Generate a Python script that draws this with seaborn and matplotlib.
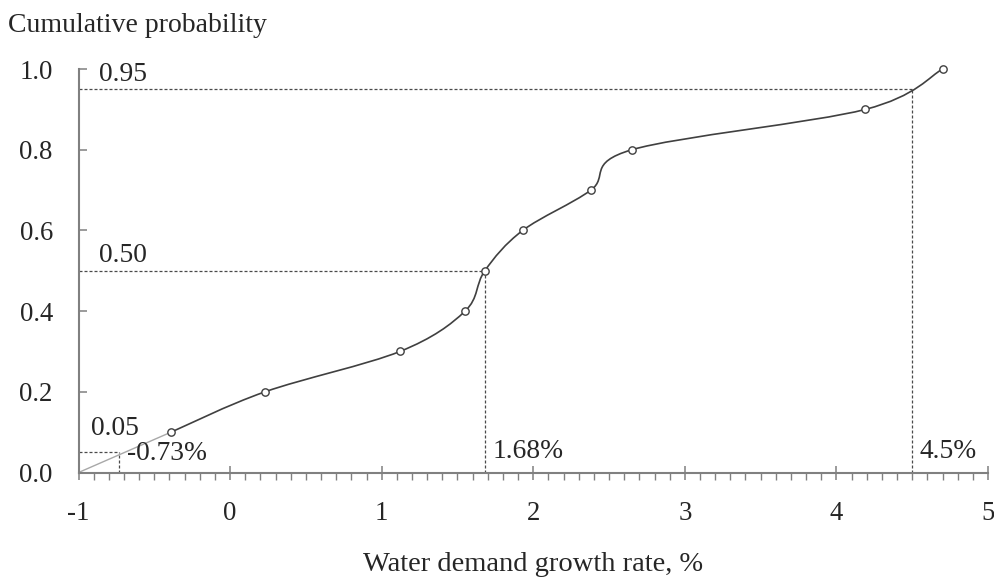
"""
Cumulative probability curve of the water demand growth rate
Smoothed empirical CDF with the 5%, 50% and 95% quantiles marked
"""

import numpy as np
import pandas as pd
import matplotlib
matplotlib.use("Agg")
import matplotlib.pyplot as plt
from matplotlib.path import Path
from matplotlib.patches import PathPatch
import seaborn as sns

# Data
growth_rate = [-0.39, 0.23, 1.12, 1.55, 1.68, 1.93, 2.38, 2.65, 4.19, 4.70]
cum_prob = [0.1, 0.2, 0.3, 0.4, 0.5, 0.6, 0.7, 0.8, 0.9, 1.0]

# straight extrapolation from the axis origin to the first point
origin_rate = -1.0
origin_prob = 0.0

# quantiles marked with dashed guide lines
quantile_probs = [0.05, 0.50, 0.95]
quantile_rates = [-0.73, 1.68, 4.5]
quantile_prob_labels = ["0.05", "0.50", "0.95"]
quantile_rate_labels = ["-0.73%", "1.68%", "4.5%"]

x_ticks = [-1, 0, 1, 2, 3, 4, 5]
x_tick_labels = ["-1", "0", "1", "2", "3", "4", "5"]
y_ticks = [0.0, 0.2, 0.4, 0.6, 0.8, 1.0]
y_tick_labels = ["0.0", "0.2", "0.4", "0.6", "0.8", "1.0"]

FONT = "Liberation Serif"
CURVE_COLOR = "#404040"
AXIS_COLOR = "#808080"
GUIDE_COLOR = "#4a4a4a"
TEXT_SIZE = 19.8


def smooth_path(xs, ys):
    """Bezier path through the points (same smoothing as a spreadsheet 'smoothed line')"""
    pts = np.column_stack([xs, ys])
    n = len(pts)
    verts = [pts[0]]
    codes = [Path.MOVETO]
    for i in range(n - 1):
        p_prev = pts[max(i - 1, 0)]
        p0 = pts[i]
        p1 = pts[i + 1]
        p_next = pts[min(i + 2, n - 1)]
        c1 = p0 + (p1 - p_prev) / 6.0
        c2 = p1 - (p_next - p0) / 6.0
        verts += [c1, c2, p1]
        codes += [Path.CURVE4] * 3
    return Path(verts, codes)


def draw_chart():
    sns.set_style("ticks")
    plt.rcParams["font.family"] = [FONT, "DejaVu Serif"]

    fig = plt.figure(figsize=(9.94, 5.78), dpi=100)
    ax = fig.add_axes([0.079, 0.1825, 0.915, 0.698])

    df = pd.DataFrame({"rate": growth_rate, "prob": cum_prob})

    # light straight segment from (-1, 0) to the first point
    sns.lineplot(x=[origin_rate, growth_rate[0]], y=[origin_prob, cum_prob[0]],
                 color="#a8a8a8", linewidth=1.0, ax=ax, zorder=2)

    # smoothed curve through the points
    ax.add_patch(PathPatch(smooth_path(df["rate"], df["prob"]), fill=False,
                           edgecolor=CURVE_COLOR, linewidth=1.2, zorder=3))

    # open circle markers
    sns.scatterplot(data=df, x="rate", y="prob", marker="o", s=28,
                    facecolor="white", edgecolor=CURVE_COLOR, linewidth=1.0,
                    ax=ax, zorder=5, clip_on=False, legend=False)

    # dashed quantile guides and their labels
    for p, r, p_lab, r_lab in zip(quantile_probs, quantile_rates,
                                  quantile_prob_labels, quantile_rate_labels):
        ax.plot([x_ticks[0], r], [p, p], color=GUIDE_COLOR, linewidth=0.9,
                dashes=(2.4, 1.6), zorder=1)
        ax.plot([r, r], [0, p], color=GUIDE_COLOR, linewidth=0.9,
                dashes=(2.4, 1.6), zorder=1)
        if p < 0.1:
            ax.text(-0.915, 0.094, p_lab, fontsize=TEXT_SIZE, ha="left", va="baseline")
            ax.text(r + 0.047, 0.032, r_lab, fontsize=TEXT_SIZE, ha="left", va="baseline")
        else:
            ax.text(-0.866, p + 0.021, p_lab, fontsize=TEXT_SIZE, ha="left", va="baseline")
            ax.text(r + 0.05, 0.036, r_lab, fontsize=TEXT_SIZE, ha="left", va="baseline")

    ax.set_xlim(x_ticks[0], x_ticks[-1])
    ax.set_ylim(y_ticks[0], y_ticks[-1])
    ax.set_xticks(x_ticks)
    ax.set_xticklabels(x_tick_labels)
    ax.set_yticks(y_ticks)
    ax.set_yticklabels(y_tick_labels)
    ax.set_xticks(np.arange(-1, 5.01, 0.1), minor=True)

    # axis styling
    sns.despine(ax=ax)
    for side in ["left", "bottom"]:
        ax.spines[side].set_color(AXIS_COLOR)
        ax.spines[side].set_linewidth(1.5)
    ax.tick_params(axis="x", which="major", direction="inout", length=10.5,
                   width=1.1, color=AXIS_COLOR, pad=15, labelsize=19.3)
    ax.tick_params(axis="x", which="minor", direction="out", length=5,
                   width=1.0, color=AXIS_COLOR)
    ax.tick_params(axis="y", which="major", direction="in", length=5.5,
                   width=1.1, color=AXIS_COLOR, pad=18.5, labelsize=19.3)

    ax.set_xlabel("Water demand growth rate, %", fontsize=20.5, labelpad=19)
    ax.set_ylabel("")
    fig.text(0.0084, 0.945, "Cumulative probability", fontsize=20,
             ha="left", va="baseline")

    fig.savefig("out.png", dpi=100)
    plt.close(fig)


def main():
    draw_chart()
    print("Saved out.png")


if __name__ == "__main__":
    main()
